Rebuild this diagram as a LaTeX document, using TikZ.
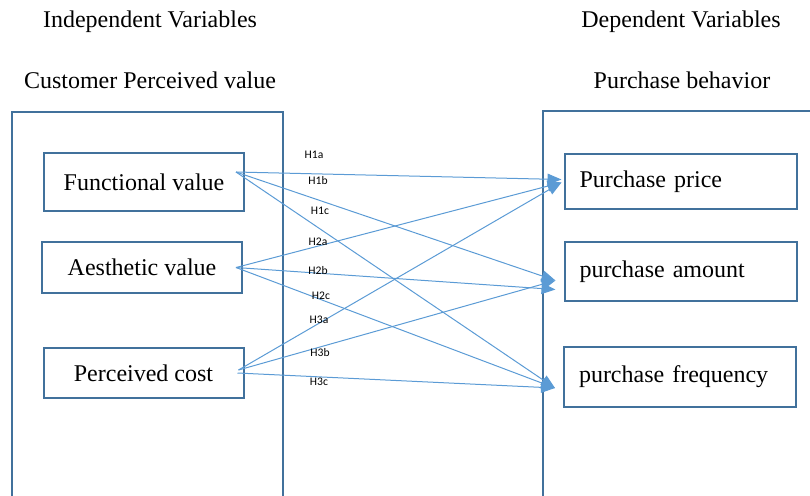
\documentclass[tikz,border=0pt]{standalone}
\usepackage{fontspec}
\setmainfont{Liberation Serif}
\newfontfamily\hfont{Carlito}
\usetikzlibrary{arrows.meta}
\definecolor{framec}{HTML}{41719C}
\definecolor{linec}{HTML}{5B9BD5}
\tikzstyle{frame} = [draw=framec, line width=1pt]
\tikzstyle{lbox} = [rectangle, draw=framec, line width=1pt, minimum width=100pt, font=\fontsize{12}{14}\selectfont]
\tikzstyle{rbox} = [rectangle, draw=framec, line width=1pt, text width=101pt, inner xsep=7.5pt, align=left, font=\fontsize{12}{14}\selectfont]
\tikzstyle{title} = [font=\fontsize{12}{14}\selectfont]
\tikzstyle{hyp} = [font=\hfont\fontsize{5.8}{7}\selectfont, inner sep=0pt]
\tikzstyle{arrow} = [draw=linec, line width=0.5pt, -{Triangle[length=7pt,width=5.5pt]}]

\begin{document}
\begin{tikzpicture}[x=0.5pt, y=-0.5pt]
    \useasboundingbox (0,0) rectangle (810,495);

    \node (iv) [title] at (150,22) {Independent Variables};
    \node (cpv) [title] at (150,80) {Customer Perceived value};
    \node (dv) [title] at (681,22) {Dependent Variables};
    \node (pb) [title] at (682,80) {Purchase behavior};

    \draw[frame] (12,497) -- (12,112) -- (283,112) -- (283,497);
    \draw[frame] (543,497) -- (543,111) -- (812,111);

    \node (fv) [lbox, minimum height=29pt] at (144,182) {Functional value};
    \node (av) [lbox, minimum height=25.5pt] at (142,267.5) {Aesthetic value};
    \node (pc) [lbox, minimum height=25pt] at (143.5,373) {Perceived cost};

    \node (pp) [rbox, minimum height=27.5pt] at (680.5,181.5) {Purchase price};
    \node (pa) [rbox, minimum height=29.5pt] at (680.5,271.5) {purchase amount};
    \node (pf) [rbox, minimum height=30pt] at (680,377) {purchase frequency};

    \coordinate (fvo) at ([xshift=-4.5pt,yshift=5pt]fv.east);
    \coordinate (avo) at ([xshift=-3.5pt]av.east);
    \coordinate (pco) at ([xshift=-3pt,yshift=1.5pt]pc.east);
    \coordinate (pco2) at ([xshift=-3.5pt]pc.east);

    \draw[arrow] (fvo) -- ([xshift=-1pt,yshift=1pt]pp.west);
    \draw[arrow] (fvo) -- ([xshift=-4pt,yshift=-4.5pt]pa.west);
    \draw[arrow] (fvo) -- ([xshift=-4pt,yshift=-5.5pt]pf.west);
    \draw[arrow] (avo) -- ([xshift=-1pt,yshift=-0.5pt]pp.west);
    \draw[arrow] (avo) -- ([xshift=-4pt,yshift=-9pt]pa.west);
    \draw[arrow] (avo) -- ([xshift=-4pt,yshift=-5.5pt]pf.west);
    \draw[arrow] (pco) -- ([xshift=-1pt,yshift=-0.5pt]pp.west);
    \draw[arrow] (pco) -- ([xshift=-4pt,yshift=-4.5pt]pa.west);
    \draw[arrow] (pco2) -- ([xshift=-4pt,yshift=-5.5pt]pf.west);

    \node (h1a) [hyp] at (314,155) {H1a};
    \node (h1b) [hyp] at (318,181) {H1b};
    \node (h1c) [hyp] at (320,211) {H1c};
    \node (h2a) [hyp] at (318,242) {H2a};
    \node (h2b) [hyp] at (318,271) {H2b};
    \node (h2c) [hyp] at (321,296) {H2c};
    \node (h3a) [hyp] at (319,320) {H3a};
    \node (h3b) [hyp] at (320,353) {H3b};
    \node (h3c) [hyp] at (319,382) {H3c};
\end{tikzpicture}
\end{document}
